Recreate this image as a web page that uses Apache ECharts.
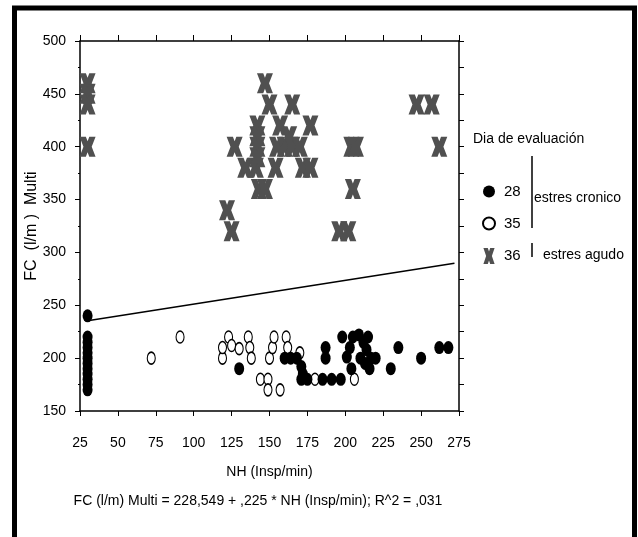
<!DOCTYPE html>
<html>
<head>
<meta charset="utf-8">
<script src="https://cdn.jsdelivr.net/npm/echarts@6/dist/echarts.min.js"></script>
<style>
  html, body { margin: 0; padding: 0; background: #fff; }
  #chart { width: 638px; height: 537px; }
</style>
</head>
<body>
<div id="chart"></div>
<script>
  // Dia de evaluación 28 (relleno)
  const dia28 = [
    [30, 170], [30, 175], [30, 180], [30, 185], [30, 190], [30, 195], [30, 200],
    [30, 205], [30, 210], [30, 215], [30, 220], [30, 240],
    [130, 190], [160, 200], [164, 200], [168, 200], [171, 192], [171, 180], [175, 180], [172, 185],
    [185, 180], [187, 210], [187, 200], [191, 180], [197, 180], [198, 220], [201, 201],
    [203, 210], [204, 190], [205, 220], [209, 222], [210, 200], [212, 215], [214, 208],
    [215, 220], [213, 195], [217, 200], [220, 200], [216, 190], [230, 190], [235, 210],
    [250, 200], [262, 210], [268, 210]
  ];
  // Dia 35 (vacío)
  const dia35 = [
    [72, 200], [91, 220], [119, 200], [119, 210], [123, 220], [125, 212], [130, 209],
    [136, 220], [137, 210], [138, 200], [144, 180], [149, 180], [149, 170], [157, 170],
    [150, 200], [152, 210], [153, 220], [161, 220], [162, 210], [170, 205], [180, 180], [206, 180]
  ];
  // Dia 36 (estres agudo)
  const dia36 = [
    [30, 460], [30, 450], [30, 440], [30, 400],
    [122, 340], [125, 320], [127, 400],
    [134, 380], [141, 380], [142, 420], [142, 410], [142, 400], [142, 390],
    [143, 360], [147, 360], [147, 460], [150, 440], [154, 380], [155, 400], [157, 420],
    [160, 400], [163, 410], [165, 400], [165, 440], [170, 400], [172, 380], [177, 380], [177, 420],
    [196, 320], [202, 320], [204, 400], [207, 400], [205, 360],
    [247, 440], [257, 440], [262, 400]
  ];
  const fitIntercept = 228.549;
  const fitSlope = 0.225;
  const fitRange = [30, 272];
  const xTicks = { min: 25, max: 275, step: 25 };
  const yTicks = { min: 150, max: 500, step: 50 };

  const font = "'Liberation Sans', Arial, sans-serif";
  const xMark = 'path://M0,0 L5.5,0 L7,4.5 L8.5,0 L14,0 L10.6,10 L14,20 L8.5,20 L7,15.5 L5.5,20 L0,20 L3.4,10 Z';

  const chart = echarts.init(document.getElementById('chart'));

  const axisBase = {
    axisLine: { show: true, lineStyle: { color: '#000', width: 1.5 } },
    axisTick: { show: true, inside: false, length: 5, lineStyle: { color: '#000', width: 1 } },
    splitLine: { show: false },
  };

  chart.setOption({
    animation: false,
    backgroundColor: '#fff',
    grid: { left: 80, right: 179, top: 41, bottom: 126 },
    xAxis: [
      {
        ...axisBase,
        type: 'value',
        position: 'bottom',
        min: xTicks.min, max: xTicks.max, interval: xTicks.step,
        name: 'NH (Insp/min)',
        nameLocation: 'middle',
        nameGap: 54,
        nameMoveOverlap: false,
        nameTextStyle: { fontFamily: font, fontSize: 14, color: '#000' },
        axisLabel: { margin: 25, fontFamily: font, fontSize: 14, color: '#000' },
      },
      {
        ...axisBase,
        type: 'value',
        position: 'top',
        min: xTicks.min, max: xTicks.max, interval: xTicks.step,
        axisTick: { ...axisBase.axisTick, length: 6 },
        axisLabel: { show: false },
      },
    ],
    yAxis: [
      {
        ...axisBase,
        type: 'value',
        position: 'left',
        min: yTicks.min, max: yTicks.max, interval: yTicks.step,
        name: 'FC  (l/m )  Multi',
        nameLocation: 'middle',
        nameGap: 40,
        nameMoveOverlap: false,
        nameTextStyle: { fontFamily: font, fontSize: 16, color: '#000' },
        minorTick: { show: true, splitNumber: 2, length: 2, lineStyle: { color: '#000' } },
        axisLabel: { margin: 14, fontFamily: font, fontSize: 14, color: '#000' },
      },
      {
        ...axisBase,
        type: 'value',
        position: 'right',
        min: yTicks.min, max: yTicks.max, interval: yTicks.step / 2,
        axisLabel: { show: false },
      },
    ],
    legend: {
      orient: 'vertical',
      left: 477,
      top: 179,
      itemGap: 17,
      itemWidth: 12,
      itemHeight: 16,
      selectedMode: false,
      textStyle: { fontFamily: font, fontSize: 15, color: '#000', padding: [0, 0, 0, 4] },
      data: ['28', '35', '36'],
    },
    series: [
      {
        name: 'ajuste',
        type: 'line',
        data: fitRange.map(x => [x, fitIntercept + fitSlope * x]),
        showSymbol: false,
        lineStyle: { color: '#000', width: 1.5 },
        silent: true,
        z: 1,
      },
      {
        name: '36',
        type: 'scatter',
        data: dia36,
        symbol: xMark,
        symbolSize: [16, 20],
        itemStyle: { color: '#505050', opacity: 1 },
        z: 2,
      },
      {
        name: '35',
        type: 'scatter',
        data: dia35,
        symbol: 'circle',
        symbolSize: [8, 12],
        itemStyle: { color: '#fff', borderColor: '#000', borderWidth: 1.3, opacity: 1 },
        z: 3,
      },
      {
        name: '28',
        type: 'scatter',
        data: dia28,
        symbol: 'circle',
        symbolSize: [10, 13],
        itemStyle: { color: '#000', opacity: 1 },
        z: 4,
      },
    ],
    graphic: [
      {
        type: 'rect',
        shape: { x: 14.5, y: 8, width: 620, height: 600 },
        style: { fill: 'none', stroke: '#000', lineWidth: 5 },
        silent: true,
      },
      {
        type: 'text', left: 473, top: 132,
        style: { text: 'Dia de evaluación', font: '14px ' + font, fill: '#000' },
      },
      {
        type: 'line', shape: { x1: 532, y1: 156, x2: 532, y2: 228 },
        style: { stroke: '#000', lineWidth: 1.5 },
      },
      {
        type: 'text', left: 534, top: 191,
        style: { text: 'estres cronico', font: '14px ' + font, fill: '#000' },
      },
      {
        type: 'line', shape: { x1: 532, y1: 243, x2: 532, y2: 257 },
        style: { stroke: '#000', lineWidth: 1.5 },
      },
      {
        type: 'text', left: 543, top: 248,
        style: { text: 'estres agudo', font: '14px ' + font, fill: '#000' },
      },
      {
        type: 'text', x: 258, y: 501,
        style: {
          text: 'FC (l/m) Multi = 228,549 + ,225 * NH (Insp/min); R^2 = ,031',
          font: '14px ' + font, fill: '#000', align: 'center', verticalAlign: 'middle',
        },
      },
    ],
  });
</script>
</body>
</html>
